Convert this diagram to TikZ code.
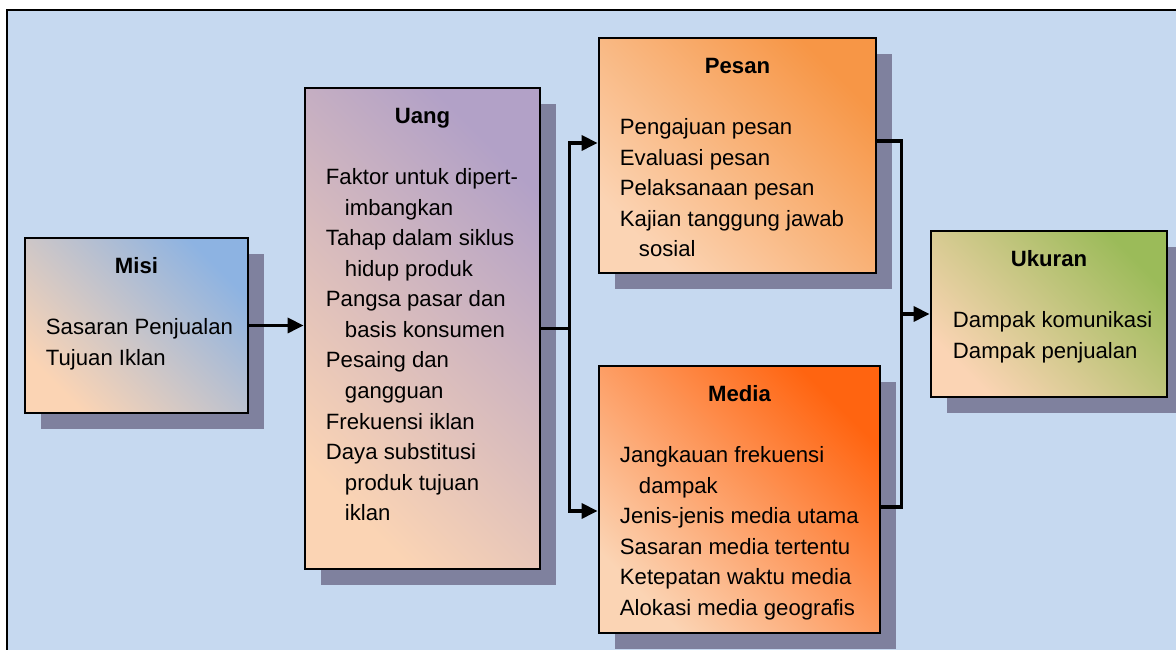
\documentclass[tikz,border=0pt]{standalone}
\usepackage{fontspec}
\setmainfont{Liberation Sans}
\usetikzlibrary{arrows.meta,calc,positioning,shadows}
\definecolor{MktBg}{HTML}{C6D9F0}
\definecolor{MktShadow}{HTML}{7F819E}
\definecolor{MktPeach}{HTML}{FBD4B4}
\definecolor{MktBlue}{HTML}{8DB3E2}
\definecolor{MktPurple}{HTML}{B2A1C7}
\definecolor{MktOrange}{HTML}{F79646}
\definecolor{MktFlame}{HTML}{FF6410}
\definecolor{MktGreen}{HTML}{9BBB59}

\begin{document}
\begin{tikzpicture}[
  x=1cm,y=1cm,font=\fontsize{12.6}{17.4}\selectfont,
  flow/.style={-{Triangle[length=0.32cm,width=0.3cm]},draw=black,line width=1.9pt},
  link/.style={draw=black,line width=1.9pt},
  frame/.style={draw=black,fill=MktBg,line width=1.1pt},
  panel/.style={draw=black,line width=1.6pt,inner sep=0pt,
    top color=#1,bottom color=MktPeach,shading angle=-45,
    general shadow={fill=MktShadow,shadow xshift=0.32cm,shadow yshift=-0.32cm}},
  boxtitle/.style={font=\fontsize{12.6}{17.4}\selectfont\bfseries,anchor=base,inner sep=0pt},
  boxbody/.style={anchor=north west,align=left,inner sep=0pt}
]

\newcommand{\mktwrap}{\hspace*{0.38cm}}

\useasboundingbox (0,0) rectangle (23.52,13.0);
\draw[frame] (0.14,12.80) rectangle (24.0,-1.0);

% Misi
\node[panel=MktBlue,minimum width=4.46cm,minimum height=3.50cm] (misi) at (2.73,6.49) {};
\node[boxtitle] (misititle) at ([yshift=-0.74cm]misi.north) {Misi};
\node[boxbody] (misibody) at ([xshift=0.44cm,yshift=-1.63cm]misi.north west)
  {Sasaran Penjualan\\Tujuan Iklan};

% Uang
\node[panel=MktPurple,minimum width=4.70cm,minimum height=9.62cm] (uang) at (8.45,6.43) {};
\node[boxtitle] (uangtitle) at ([yshift=-0.74cm]uang.north) {Uang};
\node[boxbody] (uangbody) at ([xshift=0.44cm,yshift=-1.63cm]uang.north west)
  {Faktor untuk dipert-\\\mktwrap imbangkan\\Tahap dalam siklus\\\mktwrap hidup produk\\
   Pangsa pasar dan\\\mktwrap basis konsumen\\Pesaing dan\\\mktwrap gangguan\\
   Frekuensi iklan\\Daya substitusi\\\mktwrap produk tujuan\\\mktwrap iklan};

% Pesan
\node[panel=MktOrange,minimum width=5.54cm,minimum height=4.70cm] (pesan) at (14.75,9.89) {};
\node[boxtitle] (pesantitle) at ([yshift=-0.74cm]pesan.north) {Pesan};
\node[boxbody] (pesanbody) at ([xshift=0.44cm,yshift=-1.63cm]pesan.north west)
  {Pengajuan pesan\\Evaluasi pesan\\Pelaksanaan pesan\\Kajian tanggung jawab\\\mktwrap sosial};

% Media
\node[panel=MktFlame,minimum width=5.62cm,minimum height=5.34cm] (media) at (14.79,3.01) {};
\node[boxtitle] (mediatitle) at ([yshift=-0.74cm]media.north) {Media};
\node[boxbody] (mediabody) at ([xshift=0.44cm,yshift=-1.63cm]media.north west)
  {Jangkauan frekuensi\\\mktwrap dampak\\Jenis-jenis media utama\\Sasaran media tertentu\\
   Ketepatan waktu media\\Alokasi media geografis};

% Ukuran
\node[panel=MktGreen,minimum width=4.72cm,minimum height=3.32cm] (ukuran) at (20.98,6.72) {};
\node[boxtitle] (ukurantitle) at ([yshift=-0.74cm]ukuran.north) {Ukuran};
\node[boxbody] (ukuranbody) at ([xshift=0.46cm,yshift=-1.63cm]ukuran.north west)
  {Dampak komunikasi\\Dampak penjualan};

% connectors
\coordinate (split) at ([xshift=0.56cm]uang.east);
\coordinate (merge) at ([xshift=-0.56cm]ukuran.west);

\draw[flow] (misi.east) -- (misi.east -| uang.west);
\draw[link] (uang.east) -- (split);
\draw[flow] (split) |- ([yshift=0.25cm]pesan.west);
\draw[flow] (split) |- ([yshift=-0.23cm]media.west);
\draw[link] ([yshift=0.29cm]pesan.east) -| (merge) |- ([yshift=-0.15cm]media.east);
\draw[flow] (merge) -- (ukuran.west);

\end{tikzpicture}
\end{document}
